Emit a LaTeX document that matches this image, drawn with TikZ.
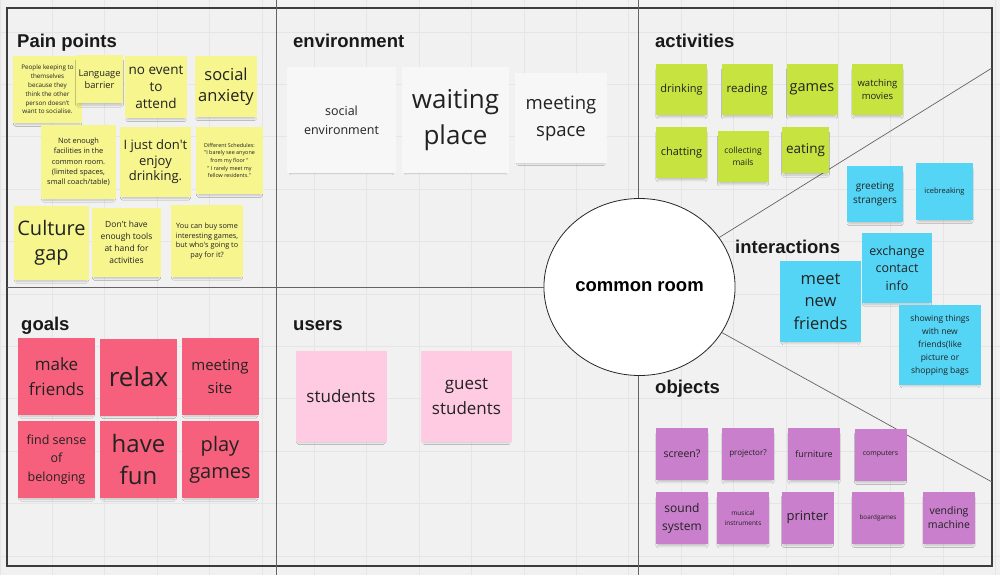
\documentclass[tikz,border=0pt]{standalone}
\usepackage{fontspec}
\setmainfont{Liberation Sans}
\newfontfamily\notefont{Open Sans}
\usepackage{tikz}
\usetikzlibrary{shapes.geometric, shadows.blur}
\usepackage{xcolor}

\definecolor{board}{RGB}{241,241,241}
\definecolor{gridgray}{RGB}{229,229,229}
\definecolor{framegray}{RGB}{60,60,60}
\definecolor{divgray}{RGB}{100,100,100}
\definecolor{notetext}{RGB}{34,34,34}
\definecolor{painyellow}{RGB}{246,245,142}
\definecolor{envwhite}{RGB}{247,247,248}
\definecolor{actgreen}{RGB}{198,227,64}
\definecolor{intcyan}{RGB}{84,213,246}
\definecolor{objpurple}{RGB}{201,127,204}
\definecolor{goalred}{RGB}{246,96,124}
\definecolor{userpink}{RGB}{254,203,226}

\newcommand{\nf}[2]{\notefont\fontsize{#1}{#2}\selectfont}

\begin{document}
\begin{tikzpicture}[
    x=1pt, y=-1pt,
    note/.style={rectangle, inner sep=1pt, align=center, text=notetext,
        blur shadow={shadow xshift=0pt, shadow yshift=-4pt, shadow scale=0.93, shadow opacity=20, shadow blur steps=5}},
    painnote/.style={note, fill=painyellow},
    envnote/.style={note, fill=envwhite},
    actnote/.style={note, fill=actgreen, minimum width=51, minimum height=51},
    intnote/.style={note, fill=intcyan},
    objnote/.style={note, fill=objpurple, minimum width=52, minimum height=52},
    goalnote/.style={note, fill=goalred, minimum width=77, minimum height=77},
    usernote/.style={note, fill=userpink, minimum width=91, minimum height=91},
    title/.style={anchor=base west, inner sep=0pt, text=black!90, font=\fontsize{18.5}{22}\selectfont\bfseries},
    hub/.style={draw=black!85, ellipse, fill=white, line width=0.8pt, minimum width=187, minimum height=177,
        font=\fontsize{18.5}{22}\selectfont\bfseries},
    divider/.style={draw=divgray, line width=0.7pt},
    gridline/.style={draw=gridgray, line width=0.8pt}
]

% board and grid
\useasboundingbox (0,0) rectangle (1000,575);
\fill[board] (0,0) rectangle (1000,575);
\foreach \gx in {0,...,19} \draw[gridline] (\gx*52.4,0) -- (\gx*52.4,575);
\foreach \gy in {0,...,10} \draw[gridline] (0,32+\gy*52.4) -- (1000,32+\gy*52.4);

% frame and dividers
\draw[framegray, line width=1.2pt] (7,8) rectangle (992,566);
\draw[divider] (276,0) -- (276,575);
\draw[divider] (638,0) -- (638,575);

\node[hub] (hub) at (639.5,287) {common room};
\coordinate (leftedge) at (7,287);
\coordinate (ne) at (992,68);
\coordinate (se) at (992,482);
\draw[divider] (leftedge) -- (hub);
\draw[divider] (hub) -- (ne);
\draw[divider] (hub) -- (se);

% titles
\node[title] (pain_t) at (17,48) {Pain points};
\node[title] (env_t) at (293,48) {environment};
\node[title] (act_t) at (655,48) {activities};
\node[title] (int_t) at (735,253) {interactions};
\node[title] (goal_t) at (21,330) {goals};
\node[title] (user_t) at (293,330) {users};
\node[title] (obj_t) at (655,393) {objects};

% pain points
\node[painnote, minimum width=69, minimum height=67, font=\nf{6.3}{8.8}] (pp1) at (47.5,89.5) {People keeping to\\themselves\\because they\\think the other\\person doesn't\\want to socialise.};
\node[painnote, minimum width=47, minimum height=48, font=\nf{9.3}{12.5}] (pp2) at (99.5,79) {Language\\barrier};
\node[painnote, minimum width=62, minimum height=62, font=\nf{13.5}{17}] (pp3) at (156,87) {no event\\to\\attend};
\node[painnote, minimum width=62, minimum height=61, font=\nf{16.5}{21}] (pp4) at (226,86.5) {social\\anxiety};
\node[painnote, minimum width=75, minimum height=74, font=\nf{7.4}{10.3}] (pp5) at (78.5,162) {Not enough\\facilities in the\\common room.\\(limited spaces,\\small coach/table)};
\node[painnote, minimum width=71, minimum height=70, font=\nf{13}{15.5}] (pp6) at (155.5,162) {I just don't\\enjoy\\drinking.};
\node[painnote, minimum width=67, minimum height=67, font=\nf{5.4}{7.7}] (pp7) at (229.5,160.5) {Different Schedules:\\"I barely see anyone\\from my floor "\\" I rarely meet my\\fellow residents."};
\node[painnote, minimum width=75, minimum height=74, font=\nf{20}{25}] (pp8) at (51.5,243) {Culture\\gap};
\node[painnote, minimum width=69, minimum height=69, font=\nf{8.5}{12}] (pp9) at (126.5,242.5) {Don't have\\enough tools\\at hand for\\activities};
\node[painnote, minimum width=72, minimum height=72, font=\nf{7.3}{9.7}] (pp10) at (207,241) {You can buy some\\interesting games,\\but who's going to\\pay for it?};

% environment
\node[envnote, minimum width=109, minimum height=106, font=\nf{12.5}{19}] (en1) at (341.5,120) {social\\environment};
\node[envnote, minimum width=107, minimum height=106, font=\nf{26}{36}] (en2) at (455.5,120) {waiting\\place};
\node[envnote, minimum width=92, minimum height=90, font=\nf{18.5}{27}] (en3) at (561,118) {meeting\\space};

% activities
\node[actnote, font=\nf{11}{14}] (ac1) at (681.5,89.5) {drinking};
\node[actnote, font=\nf{11.5}{14}] (ac2) at (747,89.5) {reading};
\node[actnote, font=\nf{14.5}{18}] (ac3) at (812,89.5) {games};
\node[actnote, font=\nf{9.5}{13.5}] (ac4) at (877.5,89.5) {watching\\movies};
\node[actnote, font=\nf{11}{14}] (ac5) at (681.5,152.5) {chatting};
\node[actnote, font=\nf{8.5}{12.5}] (ac6) at (743,156.5) {collecting\\mails};
\node[actnote, minimum width=47, minimum height=46, font=\nf{13.5}{17}] (ac7) at (805.5,150) {eating};

% interactions
\node[intnote, minimum width=56, minimum height=56, font=\nf{10}{14.5}] (in1) at (875,194) {greeting\\strangers};
\node[intnote, minimum width=57, minimum height=57, font=\nf{7.5}{10}] (in2) at (944.5,191.5) {icebreaking};
\node[intnote, minimum width=70, minimum height=70, font=\nf{12.5}{17.5}] (in3) at (897,268) {exchange\\contact\\info};
\node[intnote, minimum width=81, minimum height=81, font=\nf{16.5}{22.5}] (in4) at (820.5,301.5) {meet\\new\\friends};
\node[intnote, minimum width=82, minimum height=80, font=\nf{8.5}{13}] (in5) at (940,345) {showing things\\with new\\friends(like\\picture or\\shopping bags};

% objects
\node[objnote, font=\nf{10.5}{14}] (ob1) at (682,454) {screen?};
\node[objnote, font=\nf{8}{11}] (ob2) at (748,454) {projector?};
\node[objnote, font=\nf{9}{12}] (ob3) at (814,454) {furniture};
\node[objnote, font=\nf{7}{10}] (ob4) at (880.5,454.5) {computers};
\node[objnote, font=\nf{12}{18}] (ob5) at (682,518) {sound\\system};
\node[objnote, font=\nf{6.5}{10}] (ob6) at (743,518) {musical\\instruments};
\node[objnote, font=\nf{13}{17}] (ob7) at (807.5,517.5) {printer};
\node[objnote, font=\nf{6.3}{9}] (ob8) at (878,517.5) {boardgames};
\node[objnote, font=\nf{10.5}{14}] (ob9) at (949,517.5) {vending\\machine};

% goals
\node[goalnote, font=\nf{17}{25}] (go1) at (56.5,376.5) {make\\friends};
\node[goalnote, font=\nf{26}{32}] (go2) at (138.5,377) {relax};
\node[goalnote, font=\nf{15}{23}] (go3) at (220,376.5) {meeting\\site};
\node[goalnote, font=\nf{12.5}{18.5}] (go4) at (56.5,459.5) {find sense\\of\\belonging};
\node[goalnote, font=\nf{24}{32}] (go5) at (138.5,459.5) {have\\fun};
\node[goalnote, font=\nf{20}{27}] (go6) at (220,459.5) {play\\games};

% users
\node[usernote, font=\nf{17}{22}] (us1) at (341,396.5) {students};
\node[usernote, font=\nf{17}{25}] (us2) at (466.5,396.5) {guest\\students};

\end{tikzpicture}
\end{document}
